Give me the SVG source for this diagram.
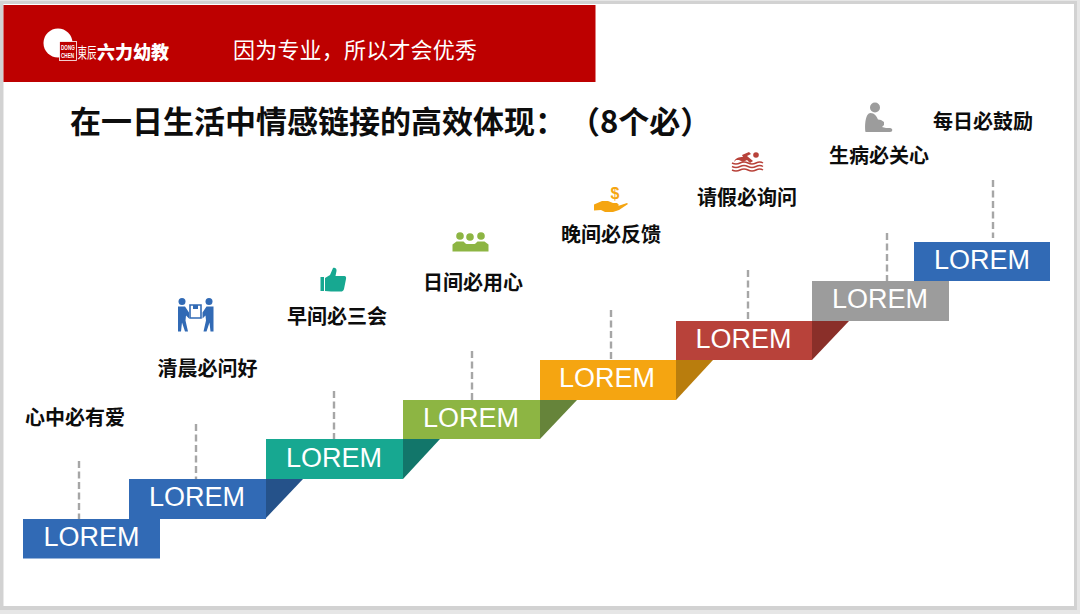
<svg xmlns="http://www.w3.org/2000/svg" width="1080" height="614" viewBox="0 0 1080 614">
<style>
text{font-family:"Noto Sans CJK SC","Liberation Sans",sans-serif}
.lab{font-size:20px;font-weight:700;fill:#0d0d0d;text-anchor:middle}
.st{font-family:"Liberation Sans",Arial,sans-serif;font-size:27px;fill:#fff;text-anchor:middle}
.ttl{font-size:31px;font-weight:700;fill:#0d0d0d}
.dash{stroke:#a6a6a6;stroke-width:2.4;stroke-dasharray:7 3.500;fill:none}
.b{fill:#316ab5}.t{fill:#17a891}.g{fill:#8db543}.o{fill:#f5a511}.r{fill:#b8423a}.y{fill:#9c9c9c}
.lg{font-family:"Liberation Sans",sans-serif;font-size:4.600px;font-weight:700;fill:#fff}
</style>
<rect width="1080" height="614" fill="#e6e6e6"/>
<rect x="0" y="1" width="1077" height="609" fill="#d2d2d2"/>
<rect x="3.500" y="4" width="1070.500" height="602" fill="#fff"/>
<g id="header">
<rect x="3.500" y="5" width="592" height="77" fill="#bd0000"/>
<g id="logo">
<circle cx="58" cy="43" r="14.500" fill="#fff"/>
<rect x="59.500" y="41.500" width="17" height="19" fill="#bd0000" stroke="#fff" stroke-width=".8"/>
<text class="lg" transform="translate(61 49.500) scale(1 1.500)">DONG</text>
<text class="lg" transform="translate(61 58) scale(1 1.500)">CHEN</text>
<text font-size="9.500" fill="#fff" transform="translate(77.500 58) scale(1 1.500)">東辰</text>
<text x="97" y="58.500" font-size="18" font-weight="900" fill="#fff">六力幼教</text>
</g>
<text x="233" y="58" font-size="22" fill="#fff" textLength="244">因为专业，所以才会优秀</text>
</g>
<g id="title"><text class="ttl" x="70" y="133">在一日生活中情感链接的高效体现：</text><text class="ttl" x="569" y="133">（8个必）</text></g>
<g id="connectors">
<path class="dash" d="M79 461V519M196 424V479M334 391V439M472 351V400M611 310V360M748 270V321M887 233V281M993 180V238"/>
</g>
<g id="step1"><rect class="b" x="23" y="519" width="137" height="39.500"/><text class="st" x="91.500" y="546">LOREM</text><text class="lab" x="75" y="424.500">心中必有爱</text></g>
<g id="step2"><rect class="b" x="129" y="479" width="137" height="40"/><path d="M266 479H303L266 518z" fill="#25528a"/><text class="st" x="197" y="506">LOREM</text><text class="lab" x="207.500" y="375.500">清晨必问好</text>
<g class="b"><circle cx="182" cy="301.500" r="3.500"/><circle cx="209" cy="301.500" r="3.500"/><path d="M178 306.500h7l4 6v6l-3-3-.5 5 2.500 11h-3l-3-9-1 9h-3z M213.500 306.500h-7l-4 6v6l3-3 .5 5-2.500 11h3l3-9 1 9h3z"/><path d="M190 305h11v13h-11z" fill="none" stroke="#316ab5" stroke-width="1.600"/><path d="M193 305h5v4h-5z"/></g></g>
<g id="step3"><rect class="t" x="266" y="439" width="137" height="40"/><path d="M403 439H440L403 479z" fill="#12766a"/><text class="st" x="334" y="467">LOREM</text><text class="lab" x="337" y="323.500">早间必三会</text>
<path class="t" d="M320.500 277h3.500v14h-3.500z M325 291v-13l5-3 3-7c2-1 4 1 3.500 3l-1 5h9c1 0 2 1 1.500 3l-2 10c-.5 2-2 2.500-3 2.500h-10z"/></g>
<g id="step4"><rect class="g" x="403" y="400" width="137" height="39"/><path d="M540 400H577L540 439z" fill="#66843a"/><text class="st" x="471" y="427">LOREM</text><text class="lab" x="473" y="289.500">日间必用心</text>
<g class="g"><circle cx="460" cy="236" r="3.800"/><circle cx="470" cy="237" r="3.800"/><circle cx="481" cy="236" r="3.800"/><path d="M452.500 251.500v-7l4-3h7l2 2 1 .5h8l1-.5 2-2h7l4 3v7z"/></g></g>
<g id="step5"><rect class="o" x="540" y="360" width="136" height="40"/><path d="M676 360H713L676 400z" fill="#b97d0d"/><text class="st" x="607" y="387">LOREM</text><text class="lab" x="611" y="241.500">晚间必反馈</text>
<path class="o" d="M594 204.500l8-3.500h6l5 2h4l2 2-1 1 9-3 1 1-9 6-6 2h-8l-4-2-7 .5z"/><text x="615" y="199" font-size="16" font-weight="700" fill="#f5a511" text-anchor="middle" style="font-family:'Liberation Sans',sans-serif">$</text></g>
<g id="step6"><rect class="r" x="676" y="321" width="136" height="39"/><path d="M812 321H849L812 360z" fill="#8a2f29"/><text class="st" x="743.500" y="348">LOREM</text><text class="lab" x="747" y="204.500">请假必询问</text>
<g class="r"><circle cx="756" cy="155" r="2.800"/><path d="M734 162c1-4 5-5 9-5l-1-2 7-3 2 2-4 2 6 5-3 2-3-3-4 2-4-2-3 0z"/></g>
<path d="M732 163q4 2 8 0t8 0t8 0t7 0M732 166.500q4 2 8 0t8 0t8 0t7 0M732 170q4 2 8 0t8 0t8 0t7 0" stroke="#b8423a" stroke-width="1.500" fill="none"/></g>
<g id="step7"><rect class="y" x="812" y="281" width="137" height="40"/><text class="st" x="880" y="308">LOREM</text><text class="lab" x="879" y="162.500">生病必关心</text>
<g class="y"><circle cx="875" cy="107.500" r="5"/><path d="M865.500 132c-1-7 0-19 5-19 4 0 6 3 7.500 6.500l3 .5 3 2v3l-2 2 4 1h4c3 0 3 4 0 4z"/></g></g>
<g id="step8"><rect class="b" x="914" y="242" width="136" height="39"/><text class="st" x="982" y="269">LOREM</text><text class="lab" x="983" y="128.500">每日必鼓励</text></g>
</svg>
